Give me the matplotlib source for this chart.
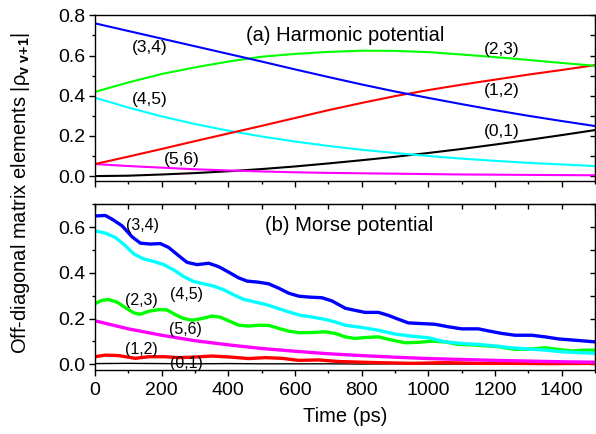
import matplotlib
matplotlib.use('Agg')
from matplotlib import pyplot as plt
from matplotlib.ticker import MultipleLocator

plt.rcParams['font.family'] = ['Liberation Sans', 'DejaVu Sans']
plt.rcParams['mathtext.fontset'] = 'custom'
plt.rcParams['mathtext.rm'] = 'Liberation Sans'
plt.rcParams['mathtext.bf'] = 'Liberation Sans:bold'
plt.rcParams['mathtext.it'] = 'Liberation Sans:italic'

# (a) harmonic potential, sampled every 100 ps
t_harm = [0, 100, 200, 300, 400, 500, 600, 700, 800, 900, 1000, 1100, 1200, 1300, 1400, 1500]
h01 = [0.000, 0.002, 0.008, 0.015, 0.024, 0.035, 0.048, 0.063, 0.079, 0.096,
       0.115, 0.135, 0.157, 0.180, 0.204, 0.229]
h12 = [0.060, 0.097, 0.135, 0.174, 0.212, 0.250, 0.289, 0.328, 0.364, 0.398,
       0.428, 0.455, 0.480, 0.505, 0.528, 0.552]
h23 = [0.419, 0.466, 0.508, 0.541, 0.570, 0.594, 0.608, 0.618, 0.624, 0.623,
       0.617, 0.605, 0.592, 0.578, 0.563, 0.549]
h34 = [0.760, 0.722, 0.684, 0.646, 0.608, 0.570, 0.531, 0.493, 0.456, 0.421,
       0.389, 0.358, 0.328, 0.300, 0.274, 0.249]
h45 = [0.390, 0.341, 0.297, 0.259, 0.226, 0.197, 0.172, 0.150, 0.131, 0.115,
       0.100, 0.087, 0.076, 0.066, 0.058, 0.050]
h56 = [0.060, 0.050, 0.042, 0.034, 0.028, 0.023, 0.019, 0.016, 0.014, 0.012,
       0.010, 0.008, 0.007, 0.006, 0.005, 0.004]

# (b) Morse potential
t_m34 = [0, 31, 51, 81, 111, 136, 166, 196, 221, 251, 276, 306, 341, 371, 401,
         431, 456, 491, 521, 551, 581, 611, 641, 681, 711, 751, 780, 810, 850,
         880, 910, 940, 980, 1020, 1060, 1100, 1150, 1180, 1220, 1260, 1310,
         1350, 1390, 1450, 1500]
m34 = [0.649, 0.651, 0.635, 0.606, 0.558, 0.530, 0.526, 0.528, 0.511, 0.475,
       0.446, 0.436, 0.442, 0.427, 0.403, 0.378, 0.364, 0.359, 0.352, 0.333,
       0.311, 0.298, 0.294, 0.291, 0.277, 0.245, 0.236, 0.227, 0.227, 0.214,
       0.197, 0.181, 0.178, 0.175, 0.164, 0.155, 0.155, 0.146, 0.135, 0.127,
       0.127, 0.120, 0.111, 0.104, 0.098]

t_m45 = [0, 31, 61, 91, 116, 146, 176, 206, 236, 266, 296, 326, 356, 386, 416,
         446, 481, 511, 546, 581, 616, 651, 691, 721, 750, 800, 850, 900, 950,
         1000, 1050, 1100, 1150, 1200, 1250, 1300, 1350, 1400, 1450, 1500]
m45 = [0.584, 0.574, 0.555, 0.519, 0.483, 0.461, 0.450, 0.436, 0.413, 0.384,
       0.362, 0.352, 0.342, 0.326, 0.304, 0.284, 0.272, 0.262, 0.246, 0.229,
       0.214, 0.207, 0.196, 0.185, 0.171, 0.161, 0.149, 0.132, 0.123, 0.116,
       0.098, 0.091, 0.087, 0.080, 0.072, 0.067, 0.062, 0.055, 0.051, 0.048]

t_m23 = [0, 21, 41, 66, 91, 116, 136, 161, 191, 216, 241, 266, 291, 321, 351,
         376, 401, 431, 461, 491, 521, 551, 581, 611, 651, 691, 721, 750, 780,
         810, 850, 890, 930, 970, 1010, 1050, 1090, 1130, 1170, 1210, 1260,
         1310, 1350, 1390, 1430, 1470, 1500]
m23 = [0.265, 0.280, 0.283, 0.272, 0.248, 0.225, 0.219, 0.232, 0.239, 0.238,
       0.217, 0.200, 0.193, 0.200, 0.211, 0.206, 0.190, 0.171, 0.167, 0.171,
       0.170, 0.157, 0.145, 0.138, 0.139, 0.142, 0.135, 0.120, 0.113, 0.117,
       0.120, 0.106, 0.094, 0.096, 0.101, 0.098, 0.087, 0.085, 0.081, 0.077,
       0.065, 0.067, 0.072, 0.065, 0.058, 0.062, 0.062]

t_m56 = t_harm
m56 = [0.190, 0.155, 0.127, 0.103, 0.085, 0.069, 0.057, 0.046, 0.038, 0.031,
       0.025, 0.021, 0.017, 0.014, 0.011, 0.009]

t_m12 = [0, 31, 71, 121, 161, 211, 251, 291, 351, 411, 461, 511, 561, 611, 671,
         731, 850, 950, 1050, 1150, 1250, 1350, 1500]
m12 = [0.033, 0.040, 0.038, 0.026, 0.033, 0.033, 0.029, 0.031, 0.036, 0.031,
       0.025, 0.029, 0.026, 0.017, 0.019, 0.012, 0.007, 0.004, 0.007, 0.004,
       0.004, 0.003, 0.004]

t_m01 = t_harm
m01 = [0.003, 0.004, 0.003, 0.002, 0.003, 0.002, 0.002, 0.002, 0.001, 0.002,
       0.001, 0.001, 0.001, 0.001, 0.001, 0.001]

BLUE, CYAN, GREEN, RED, MAGENTA = '#0000ff', '#00ffff', '#00ff00', '#ff0000', '#ff00ff'

fig = plt.figure(figsize=(5.96, 4.34), dpi=100)
ax1 = fig.add_axes([0.1594, 0.5836, 0.839, 0.3811])
ax2 = fig.add_axes([0.1594, 0.1475, 0.839, 0.3818])

lw1 = 1.5
ax1.plot(t_harm, h01, c='black', lw=lw1)
ax1.plot(t_harm, h56, c=MAGENTA, lw=lw1)
ax1.plot(t_harm, h45, c=CYAN, lw=lw1)
ax1.plot(t_harm, h12, c=RED, lw=lw1)
ax1.plot(t_harm, h23, c=GREEN, lw=lw1)
ax1.plot(t_harm, h34, c=BLUE, lw=lw1)

lw2 = 2.4
ax2.plot(t_m01, m01, c='black', lw=1.0)
ax2.plot(t_m12, m12, c=RED, lw=lw2)
ax2.plot(t_m56, m56, c=MAGENTA, lw=lw2)
ax2.plot(t_m23, m23, c=GREEN, lw=lw2)
ax2.plot(t_m45, m45, c=CYAN, lw=lw2)
ax2.plot(t_m34, m34, c=BLUE, lw=lw2)

# curve labels
fs_lab = 12.5
ax1.text(163, 0.64, '(3,4)', fontsize=fs_lab, ha='center', va='center')
ax1.text(163, 0.38, '(4,5)', fontsize=fs_lab, ha='center', va='center')
ax1.text(261, 0.085, '(5,6)', fontsize=fs_lab, ha='center', va='center')
ax1.text(1220, 0.632, '(2,3)', fontsize=fs_lab, ha='center', va='center')
ax1.text(1220, 0.428, '(1,2)', fontsize=fs_lab, ha='center', va='center')
ax1.text(1220, 0.22, '(0,1)', fontsize=fs_lab, ha='center', va='center')
ax1.text(452, 0.70, '(a) Harmonic potential', fontsize=14.5, ha='left', va='center')

fs_lab2 = 11.5
ax2.text(143, 0.606, '(3,4)', fontsize=fs_lab2, ha='center', va='center')
ax2.text(274, 0.304, '(4,5)', fontsize=fs_lab2, ha='center', va='center')
ax2.text(138, 0.280, '(2,3)', fontsize=fs_lab2, ha='center', va='center')
ax2.text(271, 0.153, '(5,6)', fontsize=fs_lab2, ha='center', va='center')
ax2.text(138, 0.066, '(1,2)', fontsize=fs_lab2, ha='center', va='center')
ax2.text(274, 0.004, '(0,1)', fontsize=fs_lab2, ha='center', va='center')
ax2.text(510, 0.606, '(b) Morse potential', fontsize=14.5, ha='left', va='center')

ax1.set_ylim(-0.023, 0.8)
ax2.set_ylim(-0.025, 0.7)
for ax in (ax1, ax2):
    ax.set_xlim(0, 1500)
    ax.xaxis.set_major_locator(MultipleLocator(200))
    ax.xaxis.set_minor_locator(MultipleLocator(100))
    ax.yaxis.set_major_locator(MultipleLocator(0.2))
    ax.yaxis.set_minor_locator(MultipleLocator(0.1))
    ax.yaxis.set_major_formatter('{x:.1f}')
    ax.tick_params(which='major', direction='out', length=4.5, width=1,
                   labelsize=14, pad=2.5, right=False, top=False)
    ax.tick_params(which='minor', direction='out', length=2.5, width=1,
                   right=False, top=False)
    for s in ax.spines.values():
        s.set_linewidth(1)
    # inward ticks on the right side
    sy = ax.secondary_yaxis('right')
    sy.yaxis.set_major_locator(MultipleLocator(0.1))
    sy.tick_params(direction='in', length=3.5, width=1, labelright=False)

ax1.tick_params(axis='x', labelbottom=False)
ax2.tick_params(axis='x', pad=4)
sx = ax2.secondary_xaxis('top')
sx.xaxis.set_major_locator(MultipleLocator(100))
sx.tick_params(direction='in', length=3.5, width=1, labeltop=False)

ax2.set_xlabel('Time (ps)', fontsize=14.5, labelpad=6)
fig.text(0.034, 0.556,
         r'Off-diagonal matrix elements |$\mathrm{\rho}_{\mathbf{v\ v\!+\!1}}$|',
         rotation=90, fontsize=14.5, ha='center', va='center')

fig.savefig('out.png', dpi=100)
